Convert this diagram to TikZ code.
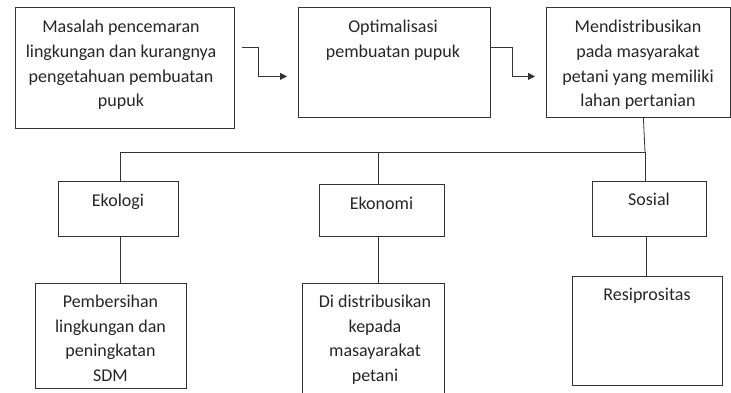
\documentclass[tikz,border=0pt]{standalone}
\usepackage{fontspec}
\setmainfont{Carlito}
\usetikzlibrary{arrows.meta,calc}
\begin{document}
\begin{tikzpicture}[x=1pt,y=-1pt,
  box/.style={draw=black!80, line width=0.8pt, rectangle, inner sep=0pt, anchor=north west},
  lbl/.style={align=center, font=\fontsize{18}{24.7}\selectfont, text=black!85, inner sep=0pt, anchor=base},
  link/.style={draw=black!80, line width=0.8pt},
  flow/.style={link, -{Triangle[length=7pt,width=7pt]}, shorten >=11pt}]
\useasboundingbox (0,0) rectangle (731,393);
\clip (0,0) rectangle (731,393);

% top row (labels are placed by the baseline of their last line)
\node[box, minimum width=219pt, minimum height=121pt] (b1) at (15,7) {};
\node[box, minimum width=192pt, minimum height=110pt] (b2) at (298,7) {};
\node[box, minimum width=184pt, minimum height=110pt] (b3) at (546,7) {};
\node[lbl] (t1) at (121,107) {Masalah pencemaran\\lingkungan dan kurangnya\\pengetahuan pembuatan\\pupuk};
\node[lbl] (t2) at (393,57.7) {Optimalisasi\\pembuatan pupuk};
\node[lbl] (t3) at (638,107) {Mendistribusikan\\pada masyarakat\\petani yang memiliki\\lahan pertanian};

% middle row
\node[box, minimum width=120pt, minimum height=55pt] (e1) at (58,181) {};
\node[box, minimum width=125pt, minimum height=52pt] (e2) at (319,184) {};
\node[box, minimum width=114pt, minimum height=55pt] (e3) at (592,181) {};
\node[lbl] (u1) at (118,206) {Ekologi};
\node[lbl] (u2) at (381.5,209) {Ekonomi};
\node[lbl] (u3) at (649,205) {Sosial};

% bottom row
\node[box, minimum width=151pt, minimum height=105pt] (d1) at (35,283) {};
\node[box, minimum width=142pt, minimum height=130pt] (d2) at (302,283) {};
\node[box, minimum width=150pt, minimum height=109pt] (d3) at (572,276) {};
\node[lbl] (v1) at (110.5,381.6) {Pembersihan\\lingkungan dan\\peningkatan\\SDM};
\node[lbl] (v2) at (375,381.6) {Di distribusikan\\kepada\\masayarakat\\petani};
\node[lbl] (v3) at (647,300) {Resiprositas};

% flow arrows
\coordinate (a1) at (242,47);
\draw[flow] (a1) -- ++(16,0) |- ($(b2.west)+(0,14)$);
\draw[flow] ($(b2.east)+(0,-15)$) -- ++(22,0) |- ($(b3.west)+(0,14)$);

% tree connectors
\coordinate (c1) at (120,152);
\coordinate (c2) at (378,152);
\coordinate (c3) at (645,152);
\draw[link] ([xshift=5pt]b3.south) -- (c3);
\draw[link] (c1) -- (c3);
\draw[link] (c1) -- (c1 |- e1.north);
\draw[link] (c2) -- (c2 |- e2.north);
\draw[link] (c3) -- (c3 |- e3.north);
\draw[link] (c1 |- e1.south) -- (c1 |- d1.north);
\draw[link] (c2 |- e2.south) -- (c2 |- d2.north);
\draw[link] ([xshift=1pt]c3 |- e3.south) -- ([xshift=1pt]c3 |- d3.north);
\end{tikzpicture}
\end{document}
